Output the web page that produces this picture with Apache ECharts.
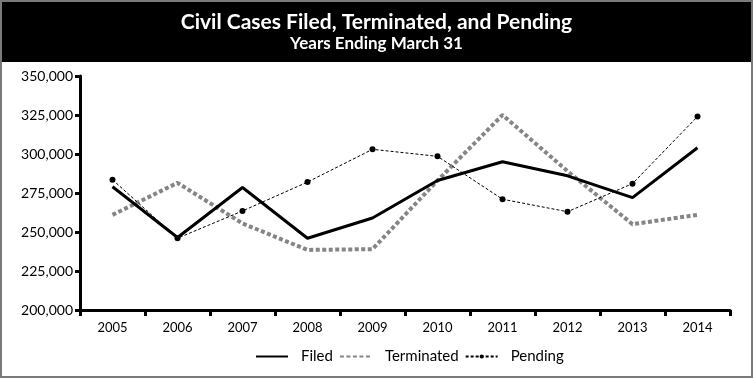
<!DOCTYPE html>
<html>
<head>
<meta charset="utf-8">
<script src="https://cdn.jsdelivr.net/npm/echarts@6/dist/echarts.min.js"></script>
<style>
html,body{margin:0;padding:0;background:#fff;}
#chart{width:753px;height:378px;}
</style>
</head>
<body>
<div id="chart"></div>
<script>
const years = ['2005','2006','2007','2008','2009','2010','2011','2012','2013','2014'];
const filed = [279000, 246500, 278500, 246000, 259000, 283000, 295000, 286000, 272000, 304000];
const terminated = [261000, 281500, 255500, 238500, 239000, 283000, 325000, 289000, 255000, 261000];
const pending = [283500, 246000, 263500, 282000, 303000, 298500, 271000, 263000, 281000, 324000];
const yTicks = {min: 200000, max: 350000, interval: 25000};

const FONT = 'Lato';
const chart = echarts.init(document.getElementById('chart'));
chart.setOption({
  animation: false,
  backgroundColor: '#fff',
  graphic: [
    {type: 'rect', shape: {x: 0, y: 0, width: 753, height: 62}, style: {fill: '#000'}, z: 0},
    {type: 'rect', shape: {x: 1, y: 1, width: 751, height: 376}, style: {fill: 'none', stroke: '#7a7a7a', lineWidth: 2}, z: 10}
  ],
  title: {
    text: 'Civil Cases Filed, Terminated, and Pending',
    subtext: 'Years Ending March 31',
    left: 'center',
    top: 7,
    itemGap: 2,
    textStyle: {color: '#fff', fontFamily: FONT, fontWeight: 'bold', fontSize: 21},
    subtextStyle: {color: '#fff', fontFamily: FONT, fontWeight: 'bold', fontSize: 17}
  },
  legend: {
    bottom: 9,
    left: 250,
    itemWidth: 32,
    itemHeight: 5,
    itemGap: 6,
    textStyle: {fontFamily: FONT, fontSize: 15, color: '#000', padding: [0, 3, 0, 8]},
    data: [
      {name: 'Filed', itemStyle: {opacity: 0}},
      {name: 'Terminated', itemStyle: {opacity: 0}},
      {name: 'Pending'}
    ]
  },
  grid: {left: 80, right: 23, top: 76, bottom: 68, containLabel: false},
  xAxis: {
    type: 'category',
    data: years,
    boundaryGap: true,
    axisLine: {lineStyle: {color: '#000', width: 3}},
    axisTick: {show: true, length: 6, lineStyle: {color: '#000', width: 3}, alignWithLabel: false},
    axisLabel: {color: '#000', fontFamily: FONT, fontSize: 13, margin: 11}
  },
  yAxis: {
    type: 'value',
    min: yTicks.min, max: yTicks.max, interval: yTicks.interval,
    splitLine: {show: false},
    axisLine: {show: true, lineStyle: {color: '#000', width: 3}},
    axisTick: {show: true, length: 5, lineStyle: {color: '#000', width: 3}},
    axisLabel: {color: '#000', fontFamily: FONT, fontSize: 14, margin: 7,
      formatter: v => v.toLocaleString('en-US')}
  },
  series: [
    {name: 'Filed', type: 'line', data: filed, symbol: 'none',
      lineStyle: {color: '#000', width: 3}, itemStyle: {color: '#000'}, z: 3},
    {name: 'Terminated', type: 'line', data: terminated, symbol: 'none',
      lineStyle: {color: '#858585', width: 4, type: [4, 2.5]}, itemStyle: {color: '#858585'}, z: 2},
    {name: 'Pending', type: 'line', data: pending, symbol: 'circle', symbolSize: 6, showSymbol: true,
      lineStyle: {color: '#000', width: 1, type: [3, 2]}, itemStyle: {color: '#000'}, z: 4}
  ]
});
</script>
</body>
</html>
